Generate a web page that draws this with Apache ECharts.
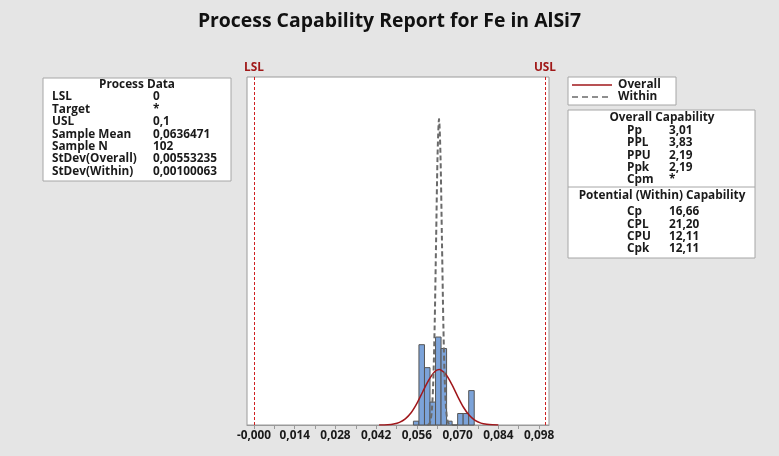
<!DOCTYPE html>
<html>
<head>
<meta charset="utf-8">
<title>Process Capability Report for Fe in AlSi7</title>
<script src="https://cdn.jsdelivr.net/npm/echarts@6/dist/echarts.min.js"></script>
<style>
  html, body { margin: 0; padding: 0; background: #e5e5e5; }
  #chart { width: 779px; height: 456px; }
</style>
</head>
<body>
<div id="chart"></div>
<script>
// histogram bins
const binStart = [0.0548, 0.0567, 0.0586, 0.0605, 0.0624, 0.0643, 0.0662, 0.0681, 0.0700, 0.0719, 0.0738]
const binEnd = [0.0567, 0.0586, 0.0605, 0.0624, 0.0643, 0.0662, 0.0681, 0.0700, 0.0719, 0.0738, 0.0757]
const binCount = [1, 21, 15, 6, 23, 20, 1, 0, 3, 3, 9]

// normal curves (overall / within)
const overallX = [0.043, 0.046, 0.048, 0.050, 0.052, 0.054, 0.056, 0.058, 0.060, 0.062, 0.0636, 0.064, 0.066, 0.068, 0.070, 0.072, 0.074, 0.076, 0.078, 0.080, 0.082, 0.084]
const overallY = [0.01, 0.09, 0.27, 0.70, 1.61, 3.2, 5.66, 8.7, 11.66, 13.88, 14.5, 14.46, 13.2, 10.6, 7.5, 4.64, 2.52, 1.18, 0.49, 0.18, 0.06, 0.02]
const withinX = [0.0596, 0.0601, 0.0606, 0.0611, 0.0616, 0.0621, 0.0626, 0.0631, 0.0636, 0.0641, 0.0646, 0.0651, 0.0656, 0.0661, 0.0666, 0.0671, 0.0676]
const withinY = [0.03, 0.18, 0.89, 3.5, 10.8, 26.0, 48.5, 70.6, 80, 70.6, 48.5, 26.0, 10.8, 3.5, 0.89, 0.18, 0.03]

// spec limits
const lsl = 0
const usl = 0.1

// axis ticks
const tickLabels = [0, 0.014, 0.028, 0.042, 0.056, 0.070, 0.084, 0.098]
const minorTicks = [0, 0.007, 0.014, 0.021, 0.028, 0.035, 0.042, 0.049, 0.056, 0.063, 0.070, 0.077, 0.084, 0.091, 0.098]

// text tables
const processLabels = ['LSL', 'Target', 'USL', 'Sample Mean', 'Sample N', 'StDev(Overall)', 'StDev(Within)']
const processValues = ['0', '*', '0,1', '0,0636471', '102', '0,00553235', '0,00100063']
const overallLabels = ['Pp', 'PPL', 'PPU', 'Ppk', 'Cpm']
const overallValues = ['3,01', '3,83', '2,19', '2,19', '*']
const withinLabels = ['Cp', 'CPL', 'CPU', 'Cpk']
const withinValues = ['16,66', '21,20', '12,11', '12,11']

const FONT = '"Open Sans", "DejaVu Sans", sans-serif'
const BOXFONT = 'bold 11.8px ' + FONT
const txt = (x, y, text, align) => ({
  type: 'text', x: x, y: y,
  style: { text: text, font: BOXFONT, fill: '#1a1a1a', textAlign: align || 'left', textVerticalAlign: 'middle' }
})

const graphics = []
// Process Data box
graphics.push({ type: 'rect', shape: { x: 43, y: 78, width: 188, height: 103 }, style: { fill: '#fff', stroke: '#a6a6a6', lineWidth: 1 } })
graphics.push(txt(137, 85, 'Process Data', 'center'))
processLabels.forEach((l, i) => {
  graphics.push(txt(52, 97 + i * 12.4, l))
  graphics.push(txt(153, 97 + i * 12.4, processValues[i]))
})

// legend box
graphics.push({ type: 'rect', shape: { x: 568, y: 77, width: 108, height: 28 }, style: { fill: '#fff', stroke: '#a6a6a6', lineWidth: 1 } })
graphics.push({ type: 'line', shape: { x1: 572, y1: 85, x2: 612, y2: 85 }, style: { stroke: '#a0171b', lineWidth: 1.5 } })
graphics.push({ type: 'line', shape: { x1: 572, y1: 97, x2: 612, y2: 97 }, style: { stroke: '#6a6a6a', lineWidth: 1.5, lineDash: [6, 4] } })
graphics.push(txt(618, 85, 'Overall'))
graphics.push(txt(618, 97, 'Within'))

// capability box
graphics.push({ type: 'rect', shape: { x: 568, y: 110, width: 187, height: 148 }, style: { fill: '#fff', stroke: '#a6a6a6', lineWidth: 1 } })
graphics.push({ type: 'line', shape: { x1: 568, y1: 187, x2: 755, y2: 187 }, style: { stroke: '#a6a6a6', lineWidth: 1 } })
graphics.push(txt(662, 118, 'Overall Capability', 'center'))
overallLabels.forEach((l, i) => {
  graphics.push(txt(627, 130.5 + i * 12.4, l))
  graphics.push(txt(669, 130.5 + i * 12.4, overallValues[i]))
})
graphics.push(txt(662, 196, 'Potential (Within) Capability', 'center'))
withinLabels.forEach((l, i) => {
  graphics.push(txt(627, 212 + i * 12.2, l))
  graphics.push(txt(669, 212 + i * 12.2, withinValues[i]))
})

const chart = echarts.init(document.getElementById('chart'))
chart.setOption({
  backgroundColor: '#e5e5e5',
  animation: false,
  title: {
    text: 'Process Capability Report for Fe in AlSi7',
    left: 'center',
    top: 7,
    textStyle: { fontFamily: FONT, fontSize: 19.4, fontWeight: 'bold', color: '#111' }
  },
  grid: {
    left: 247, right: 230, top: 77, bottom: 31,
    show: true, backgroundColor: '#fff', borderColor: '#9a9a9a', borderWidth: 1
  },
  xAxis: {
    type: 'value',
    min: -0.0024,
    max: 0.1014,
    splitLine: { show: false },
    axisLine: { show: true, lineStyle: { color: '#9a9a9a' } },
    axisTick: { show: true, length: 4, lineStyle: { color: '#9a9a9a' }, customValues: minorTicks },
    axisLabel: {
      customValues: tickLabels,
      fontFamily: FONT, fontSize: 11.8, fontWeight: 'bold', color: '#1a1a1a', margin: 5,
      formatter: v => (v === 0 ? '-0,000' : v.toFixed(3).replace('.', ','))
    }
  },
  yAxis: { type: 'value', min: 0, max: 91, show: false },
  graphic: graphics,
  series: [
    {
      type: 'custom',
      name: 'bins',
      data: binStart.map((s, i) => [s, binEnd[i], binCount[i]]),
      encode: { x: [0, 1], y: 2 },
      renderItem: (params, api) => {
        const p0 = api.coord([api.value(0), api.value(2)])
        const p1 = api.coord([api.value(1), 0])
        return {
          type: 'rect',
          shape: { x: p0[0], y: p0[1], width: p1[0] - p0[0], height: p1[1] - p0[1] },
          style: { fill: '#7ca3d9', stroke: '#555', lineWidth: 1 }
        }
      },
      z: 1
    },
    {
      type: 'line',
      name: 'Overall',
      data: overallX.map((x, i) => [x, overallY[i]]),
      smooth: 0.3,
      showSymbol: false,
      lineStyle: { color: '#a0171b', width: 1.5 },
      z: 3
    },
    {
      type: 'line',
      name: 'Within',
      data: withinX.map((x, i) => [x, withinY[i]]),
      smooth: 0.3,
      showSymbol: false,
      lineStyle: { color: '#6a6a6a', width: 2, type: [5, 3] },
      z: 4,
      markLine: {
        silent: true,
        symbol: 'none',
        lineStyle: { color: '#d02020', width: 1, type: [3, 2] },
        label: {
          show: true, position: 'end', distance: 3,
          color: '#a01818', fontFamily: FONT, fontSize: 11.8, fontWeight: 'bold',
          formatter: p => p.name
        },
        data: [{ name: 'LSL', xAxis: lsl }, { name: 'USL', xAxis: usl }]
      }
    }
  ]
})
</script>
</body>
</html>
